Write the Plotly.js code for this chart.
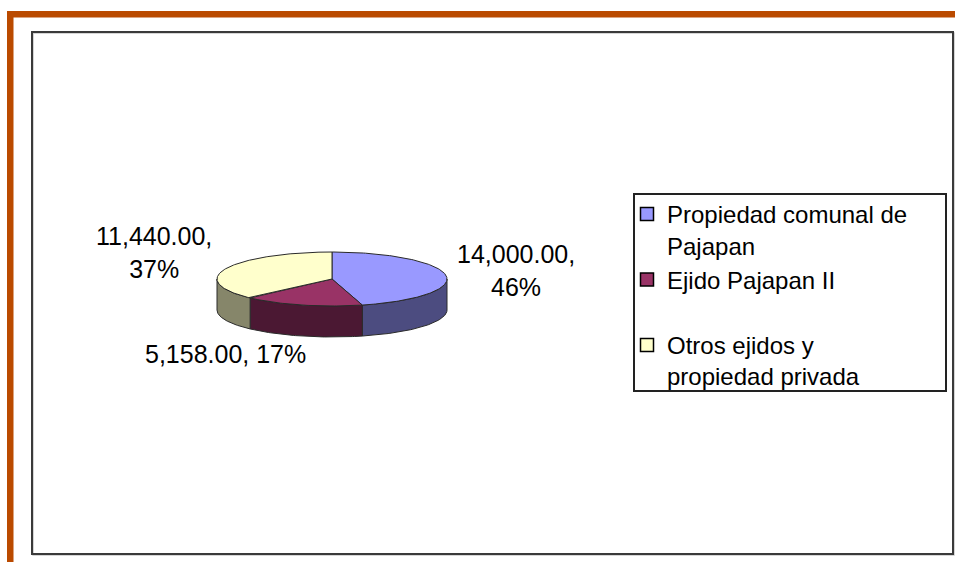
<!DOCTYPE html>
<html><head><meta charset="utf-8">
<script src="https://cdn.plot.ly/plotly-3.0.1.min.js"></script>
<style>html,body{margin:0;padding:0;background:#fff;}</style>
</head><body><div id="chart" style="width:955px;height:562px;"></div>
<script>
// ---- data ----
const categories = ['Propiedad comunal de Pajapan', 'Ejido Pajapan II', 'Otros ejidos y propiedad privada'];
const values = [14000, 5158, 11440];
const legendLabels = ['Propiedad comunal de<br>Pajapan', 'Ejido Pajapan II<br>&nbsp;', 'Otros ejidos y<br>propiedad privada'];
const labelBreaks = ['<br>', ' ', '<br>'];

// ---- style ----
const topColors = ['#9999FF', '#993366', '#FFFFCC'];
const sideColors = ['#4C4C80', '#4B1833', '#86866A'];
const labelPos = [[516, 270], [225, 354], [154, 252]];
const FONT = 'Liberation Sans, Arial, sans-serif';
const W = 955, H = 562;
const PIE = {cx: 332, cy: 279, rx: 115, ry: 27, depth: 31};

const total = values.reduce((a, b) => a + b, 0);
function pt(deg, dy) {
  const r = deg * Math.PI / 180;
  return [PIE.cx + PIE.rx * Math.sin(r), PIE.cy - PIE.ry * Math.cos(r) + (dy || 0)];
}
function arc(a0, a1, dy) {
  const n = Math.max(2, Math.ceil(Math.abs(a1 - a0)));
  const out = [];
  for (let i = 0; i <= n; i++) out.push(pt(a0 + (a1 - a0) * i / n, dy));
  return out;
}

const sideTraces = [], topTraces = [], legendTraces = [], annotations = [];
let acc = 0;
values.forEach((v, i) => {
  const a0 = acc / total * 360; acc += v; const a1 = acc / total * 360;
  const s0 = Math.max(a0, 90), s1 = Math.min(a1, 270);
  if (s1 > s0) {
    const up = arc(s0, s1, 0), down = arc(s1, s0, PIE.depth);
    const p = up.concat(down); p.push(up[0]);
    sideTraces.push({type: 'scatter', mode: 'lines', x: p.map(q => q[0]), y: p.map(q => q[1]),
      fill: 'toself', fillcolor: sideColors[i], line: {color: '#2a2a2a', width: 1},
      showlegend: false, hoverinfo: 'skip'});
  }
  const t = [[PIE.cx, PIE.cy]].concat(arc(a0, a1, 0)); t.push([PIE.cx, PIE.cy]);
  topTraces.push({type: 'scatter', mode: 'lines', x: t.map(q => q[0]), y: t.map(q => q[1]),
    fill: 'toself', fillcolor: topColors[i], line: {color: '#2a2a2a', width: 1},
    showlegend: false, hoverinfo: 'skip', name: categories[i]});
  legendTraces.push({type: 'scatter', mode: 'markers', x: [null], y: [null], name: legendLabels[i],
    marker: {symbol: 'square', size: 13, color: topColors[i], line: {color: '#000', width: 1.5}},
    showlegend: true, hoverinfo: 'skip'});
  const num = v.toLocaleString('en-US', {minimumFractionDigits: 2, maximumFractionDigits: 2});
  const pct = Math.round(v / total * 100);
  annotations.push({x: labelPos[i][0], y: labelPos[i][1], xref: 'x', yref: 'y', showarrow: false,
    text: num + ',' + labelBreaks[i] + pct + '%', align: 'center',
    font: {family: FONT, size: 25, color: '#000'}, xanchor: 'center', yanchor: 'middle'});
});

const shapes = [
  {type: 'rect', xref: 'x', yref: 'y', x0: 7, x1: 955, y0: 11, y1: 17.5, fillcolor: '#BA4A00', line: {width: 0}, layer: 'below'},
  {type: 'rect', xref: 'x', yref: 'y', x0: 7, x1: 13.5, y0: 11, y1: 562, fillcolor: '#BA4A00', line: {width: 0}, layer: 'below'},
  {type: 'rect', xref: 'x', yref: 'y', x0: 33, x1: 954, y0: 33, y1: 555, line: {color: '#C8C8C8', width: 1.5}, layer: 'below'},
  {type: 'rect', xref: 'x', yref: 'y', x0: 32, x1: 953, y0: 32, y1: 554, line: {color: '#3A3A3A', width: 2}, layer: 'below'},
  {type: 'rect', xref: 'x', yref: 'y', x0: 634, x1: 946, y0: 194, y1: 391, line: {color: '#222', width: 2}, layer: 'below'}
];

const layout = {
  width: W, height: H, margin: {l: 0, r: 0, t: 0, b: 0},
  paper_bgcolor: '#fff', plot_bgcolor: 'rgba(0,0,0,0)',
  xaxis: {range: [0, W], visible: false, fixedrange: true},
  yaxis: {range: [H, 0], visible: false, fixedrange: true},
  showlegend: true,
  legend: {x: 627 / W, y: 1 - 192 / H, xanchor: 'left', yanchor: 'top', valign: 'top',
    bgcolor: 'rgba(0,0,0,0)', borderwidth: 0, font: {family: FONT, size: 24, color: '#000'},
    tracegroupgap: 0},
  shapes: shapes, annotations: annotations, hovermode: false
};

Plotly.newPlot('chart', sideTraces.concat(topTraces).concat(legendTraces), layout,
  {staticPlot: true, displayModeBar: false});
</script></body></html>
